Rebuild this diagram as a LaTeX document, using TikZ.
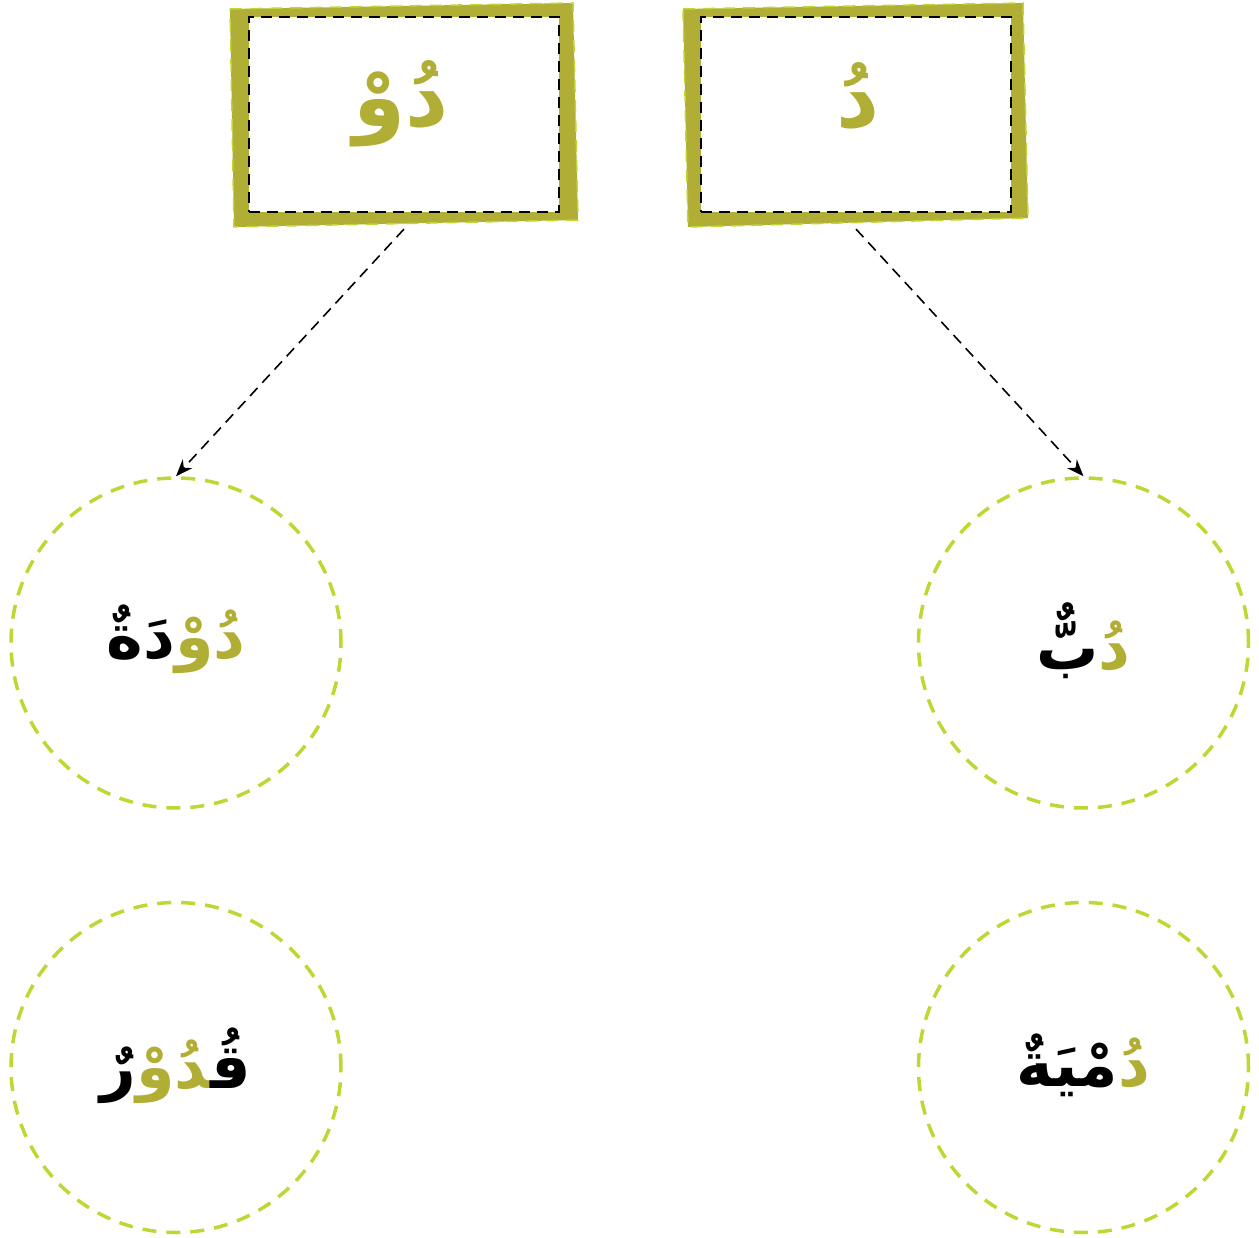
\documentclass[tikz,border=0pt]{standalone}
\usepackage{fontspec}
\usetikzlibrary{arrows.meta}
\newfontfamily\arabicfont[Script=Arabic]{DejaVu Sans}
\TeXXeTstate=1
\definecolor{olivec}{RGB}{176,174,52}
\definecolor{lightg}{RGB}{192,214,52}
\newcommand{\zwjc}{\char"200D\relax}
\newcommand{\rtl}[1]{\beginR #1\endR}
\tikzset{
  innerbox/.style={draw=black, line width=2.2pt, dash pattern=on 11pt off 7pt, minimum width=310pt, minimum height=195pt, inner sep=0pt, fill=white},
  wordcirc/.style={circle, draw=lightg, line width=3.5pt, dash pattern=on 14pt off 10pt, minimum size=330pt, inner sep=0pt},
  boxtext/.style={text=olivec, font=\arabicfont\bfseries\fontsize{84}{94}\selectfont},
  circtext/.style={text=black, font=\arabicfont\bfseries\fontsize{62}{70}\selectfont},
  conn/.style={draw=black, line width=1.6pt, dash pattern=on 11pt off 7pt, -{Stealth[length=17pt,width=13pt]}},
  band/.style={fill=olivec},
  bandedge/.style={draw=lightg, line width=1.5pt, dash pattern=on 12pt off 8pt}
}
\begin{document}
\begin{tikzpicture}[x=1pt,y=-1pt]
\useasboundingbox (0,0) rectangle (1259,1238);
% box 1 band
\fill[band] (230,9) -- (573,3) -- (578,220) -- (234,227) -- cycle;
\draw[bandedge] (230,9) -- (573,3) -- (578,220) -- (234,227) -- cycle;
% box 2 band
\fill[band] (683,9) -- (1023,3) -- (1028,218) -- (688,227) -- cycle;
\draw[bandedge] (683,9) -- (1023,3) -- (1028,218) -- (688,227) -- cycle;
% inner boxes
\node[innerbox] (b1) at (404,114.5) {};
\node[innerbox] (b2) at (856,114.5) {};
\node[boxtext] (t1) at (401,104) {\rtl{دُوْ}};
\node[boxtext] (t2) at (858,96) {\rtl{دُ}};
% circles
\node[wordcirc] (c1) at (176,643) {};
\node[wordcirc] (c2) at (1083.5,643) {};
\node[wordcirc] (c3) at (176,1067.5) {};
\node[wordcirc] (c4) at (1083.5,1067.5) {};
\node[circtext] (w1) at ([yshift=4pt]c1.center) {\rtl{دَةٌ}{\color{olivec}\rtl{دُوْ}}};
\node[circtext] (w2) at ([yshift=2pt]c2.center) {\rtl{بٌّ}{\color{olivec}\rtl{دُ}}};
\node[circtext] (w3) at ([yshift=2pt]c3.center) {\rtl{رٌ}{\color{olivec}\rtl{\zwjc دُوْ}}\rtl{قُ\zwjc}};
\node[circtext] (w4) at ([yshift=2pt]c4.center) {\rtl{مْيَةٌ}{\color{olivec}\rtl{دُ}}};
% connectors
\draw[conn] ([yshift=-16pt]b1.south) -- (c1.north);
\draw[conn] ([yshift=-16pt]b2.south) -- (c2.north);
\end{tikzpicture}
\end{document}
